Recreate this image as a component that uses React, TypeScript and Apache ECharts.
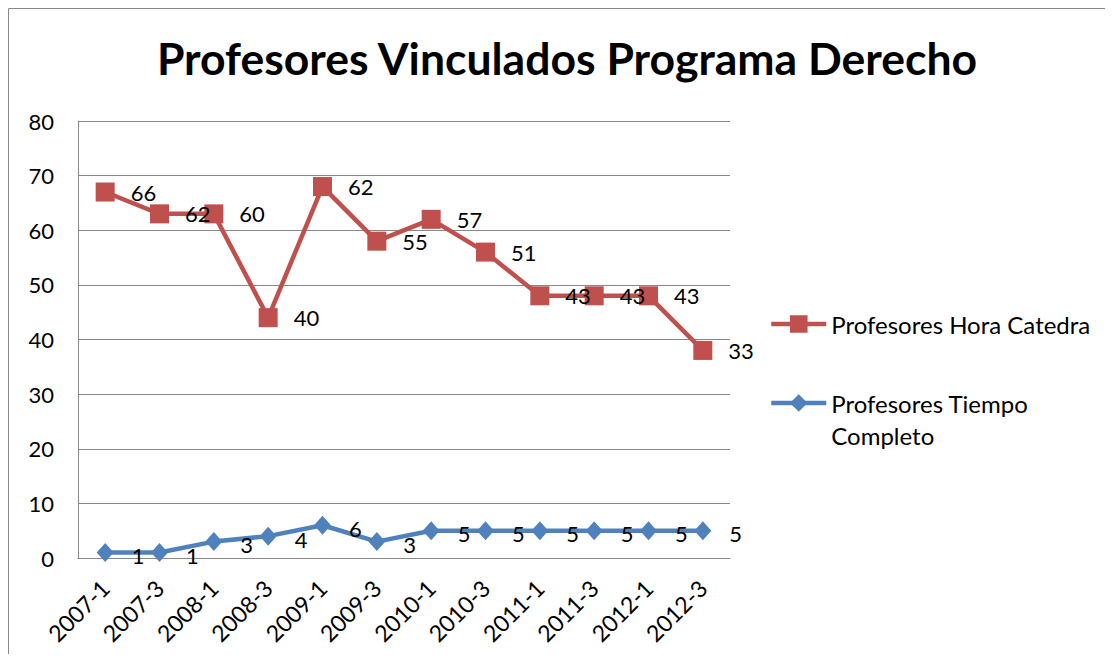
import React, { useEffect, useRef } from "react";
import * as echarts from "echarts";

const categories = ["2007-1", "2007-3", "2008-1", "2008-3", "2009-1", "2009-3", "2010-1", "2010-3", "2011-1", "2011-3", "2012-1", "2012-3"];
const tiempoCompleto = [1, 1, 3, 4, 6, 3, 5, 5, 5, 5, 5, 5];
const horaCatedra = [66, 62, 60, 40, 62, 55, 57, 51, 43, 43, 43, 33];
const yTicks = { min: 0, max: 80, interval: 10 };

const FONT = "Lato, 'Open Sans', sans-serif";
const RED = "#C0504D";
const BLUE = "#4F81BD";
const GRID = "#888888";

export default function App() {
  const ref = useRef<HTMLDivElement>(null);
  useEffect(() => {
    if (!ref.current) return;
    const chart = echarts.init(ref.current, undefined, { renderer: "svg" });
    chart.setOption({
      animation: false,
      backgroundColor: "#ffffff",
      textStyle: { fontFamily: FONT },
      title: {
        text: "Profesores Vinculados Programa Derecho",
        left: 554,
        top: 22,
        textAlign: "center",
        textStyle: { fontFamily: FONT, fontWeight: "bold", fontSize: 44.5, color: "#000" },
      },
      graphic: [
        {
          type: "rect",
          shape: { x: 0.5, y: 0.5, width: 1300, height: 720 },
          style: { fill: "none", stroke: "#888888", lineWidth: 1 },
          silent: true,
        },
      ],
      legend: [
        {
          orient: "vertical",
          left: 761,
          top: 301,
          padding: 0,
          itemWidth: 55,
          itemHeight: 22,
          lineStyle: { width: 4.5 },
          data: ["Profesores Hora Catedra"],
          textStyle: { fontFamily: FONT, fontSize: 24, color: "#000", lineHeight: 30 },
        },
        {
          orient: "vertical",
          left: 761,
          top: 347,
          padding: 0,
          itemWidth: 55,
          itemHeight: 22,
          lineStyle: { width: 4.5 },
          data: ["Profesores Tiempo Completo"],
          formatter: () => " \nProfesores Tiempo\nCompleto",
          textStyle: { fontFamily: FONT, fontSize: 24, color: "#000", lineHeight: 32 },
        },
      ],
      grid: { left: 70, top: 113, right: 375, bottom: 96 },
      xAxis: {
        type: "category",
        data: categories,
        boundaryGap: true,
        axisLine: { lineStyle: { color: GRID, width: 1 } },
        axisTick: { show: false },
        axisLabel: { rotate: 45, margin: 26, fontFamily: FONT, fontSize: 23, color: "#000", interval: 0 },
      },
      yAxis: {
        type: "value",
        min: yTicks.min,
        max: yTicks.max,
        interval: yTicks.interval,
        axisLine: { show: true, lineStyle: { color: GRID, width: 1 } },
        axisTick: { show: false },
        splitLine: { lineStyle: { color: GRID, width: 1 } },
        axisLabel: { margin: 24, fontFamily: FONT, fontSize: 22, color: "#000" },
      },
      series: [
        {
          name: "Profesores Tiempo Completo",
          type: "line",
          stack: "total",
          data: tiempoCompleto,
          symbol: "diamond",
          symbolSize: [17, 19],
          lineStyle: { color: BLUE, width: 4.5 },
          itemStyle: { color: BLUE },
          label: {
            show: true,
            position: "right",
            distance: 18,
            offset: [0, 3],
            fontFamily: FONT,
            fontSize: 22,
            color: "#000",
          },
          z: 3,
        },
        {
          name: "Profesores Hora Catedra",
          type: "line",
          stack: "total",
          data: horaCatedra,
          symbol: "rect",
          symbolSize: 19,
          lineStyle: { color: RED, width: 4.5 },
          itemStyle: { color: RED },
          label: {
            show: true,
            position: "right",
            distance: 16,
            fontFamily: FONT,
            fontSize: 22,
            color: "#000",
          },
          z: 2,
        },
      ],
    });
    return () => chart.dispose();
  }, []);
  return <div ref={ref} style={{ width: 1097, height: 646 }} />;
}
